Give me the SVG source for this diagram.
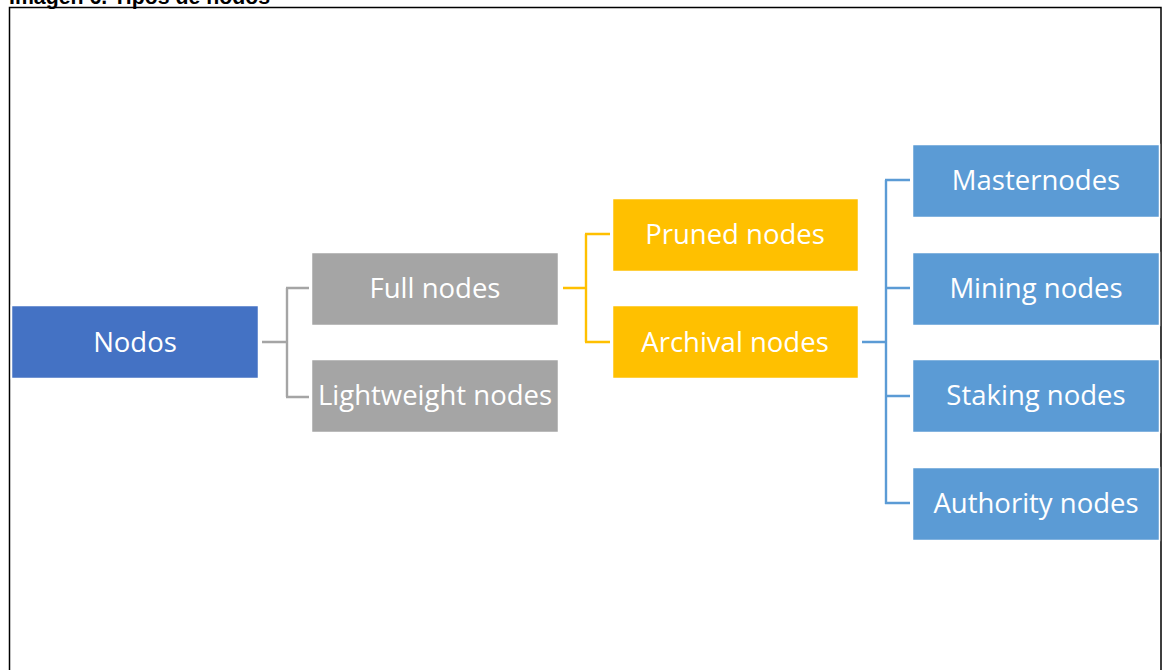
<svg xmlns="http://www.w3.org/2000/svg" width="1163" height="670" viewBox="0 0 1163 670">
<style>
.t{font-family:"Open Sans","Liberation Sans",sans-serif;font-size:27.5px;fill:#fff;text-anchor:middle;dominant-baseline:central}
.box{stroke:#fff;stroke-width:1.5}
.c{fill:none;stroke-width:2.4}
</style>
<rect width="1163" height="670" fill="#fff"/>
<text x="9" y="3.5" font-family="Liberation Sans, Arial, sans-serif" font-weight="bold" font-size="21.3" fill="#000">Imagen 6. Tipos de nodos</text>
<path d="M9.5,672 V7.5 H1161 V672" fill="none" stroke="#000" stroke-width="1.5"/>
<g id="connectors">
<path class="c" stroke="#A5A5A5" d="M262,342 H287 M287,288 V397 M286,288 H309 M286,397 H309"/>
<path class="c" stroke="#FFC000" d="M563,288 H586 M586,234 V342 M585,234 H610 M585,342 H610"/>
<path class="c" stroke="#5B9BD5" d="M862,342 H886 M886,180 V504 M885,180 H910 M885,288 H910 M885,396 H910 M885,503 H910"/>
</g>
<g id="n-nodos"><rect class="box" x="11.5" y="305.5" width="247" height="73" fill="#4472C4"/><text class="t" x="135" y="341">Nodos</text></g>
<g id="n-full"><rect class="box" x="311.5" y="252.5" width="247" height="73" fill="#A5A5A5"/><text class="t" x="435" y="287">Full nodes</text></g>
<g id="n-light"><rect class="box" x="311.5" y="359.5" width="247" height="73" fill="#A5A5A5"/><text class="t" x="435" y="394">Lightweight nodes</text></g>
<g id="n-pruned"><rect class="box" x="612.5" y="198.5" width="246" height="73" fill="#FFC000"/><text class="t" x="735" y="233">Pruned nodes</text></g>
<g id="n-archival"><rect class="box" x="612.5" y="305.5" width="246" height="73" fill="#FFC000"/><text class="t" x="735" y="341">Archival nodes</text></g>
<g id="n-master"><rect class="box" x="912.5" y="144.5" width="247" height="73" fill="#5B9BD5"/><text class="t" x="1036" y="179">Masternodes</text></g>
<g id="n-mining"><rect class="box" x="912.5" y="252.5" width="247" height="73" fill="#5B9BD5"/><text class="t" x="1036" y="287">Mining nodes</text></g>
<g id="n-staking"><rect class="box" x="912.5" y="359.5" width="247" height="73" fill="#5B9BD5"/><text class="t" x="1036" y="394">Staking nodes</text></g>
<g id="n-authority"><rect class="box" x="912.5" y="467.5" width="247" height="73" fill="#5B9BD5"/><text class="t" x="1036" y="502">Authority nodes</text></g>
</svg>
